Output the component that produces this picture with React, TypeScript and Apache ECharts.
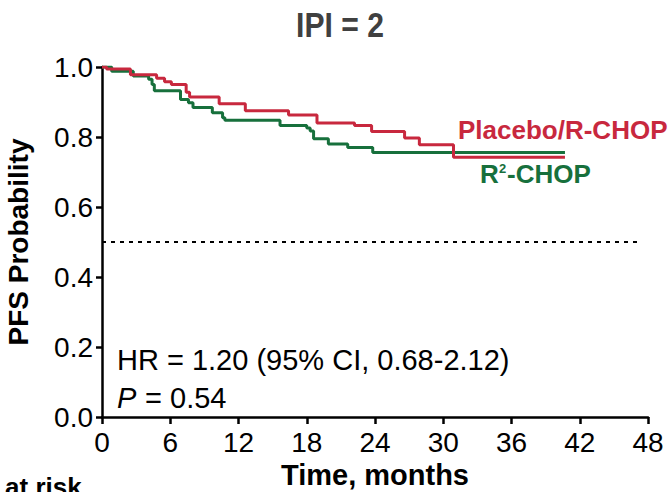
import React, { useEffect, useRef } from "react";
import * as echarts from "echarts";

const xTicks = [0, 6, 12, 18, 24, 30, 36, 42, 48];
const yTicks = [0, 0.2, 0.4, 0.6, 0.8, 1.0];

const placeboTimes = [0, 0.4, 2.5, 4.8, 5.5, 6.1, 7.4, 7.7, 10.3, 12.6, 16.4, 18.9, 22.2, 23.7, 26.6, 27.9, 30.9, 40.7];
const placeboSurv = [1.0, 0.994, 0.978, 0.968, 0.958, 0.95, 0.928, 0.914, 0.895, 0.875, 0.863, 0.84, 0.833, 0.816, 0.797, 0.778, 0.742, 0.742];

const r2Times = [0, 0.85, 2.75, 4.1, 4.4, 4.6, 6.9, 7.6, 8.0, 9.7, 10.6, 10.8, 15.65, 18.0, 18.3, 18.6, 19.9, 21.6, 23.8, 40.7];
const r2Surv = [1.0, 0.988, 0.974, 0.965, 0.95, 0.932, 0.907, 0.898, 0.884, 0.869, 0.855, 0.848, 0.833, 0.826, 0.817, 0.795, 0.78, 0.77, 0.756, 0.756];

const medianLine = 0.5;

const RED = "#c8283e";
const GREEN = "#17703c";
const FONT = "'Liberation Sans', Arial, Helvetica, sans-serif";

export default function App() {
  const ref = useRef<HTMLDivElement>(null);
  useEffect(() => {
    if (!ref.current) return;
    const chart = echarts.init(ref.current, undefined, { renderer: "svg" });
    const pts = (t: number[], s: number[]) => t.map((v, i) => [v, s[i]]);
    chart.setOption({
      animation: false,
      textStyle: { fontFamily: FONT },
      grid: { left: 102, right: 20, top: 67, bottom: 75, containLabel: false, outerBoundsMode: "none" },
      xAxis: {
        type: "value",
        min: xTicks[0],
        max: xTicks[xTicks.length - 1],
        interval: 6,
        name: "Time, months",
        nameLocation: "middle",
        nameGap: 40,
        nameTextStyle: { fontFamily: FONT, fontSize: 29, fontWeight: "bold", color: "#000" },
        axisLine: { show: true, lineStyle: { color: "#000", width: 2.5 } },
        axisTick: { show: true, length: 7, lineStyle: { color: "#000", width: 2.5 } },
        axisLabel: { fontFamily: FONT, fontSize: 28, color: "#000", margin: 11 },
        splitLine: { show: false },
      },
      yAxis: {
        type: "value",
        min: yTicks[0],
        max: yTicks[yTicks.length - 1],
        interval: 0.2,
        name: "PFS Probability",
        nameLocation: "middle",
        nameGap: 70,
        nameRotate: 90,
        nameTextStyle: { fontFamily: FONT, fontSize: 28, fontWeight: "bold", color: "#000" },
        axisLine: { show: true, lineStyle: { color: "#000", width: 2.5 } },
        axisTick: { show: true, length: 6, lineStyle: { color: "#000", width: 2.5 } },
        axisLabel: {
          fontFamily: FONT,
          fontSize: 28,
          color: "#000",
          margin: 9,
          formatter: (v: number) => v.toFixed(1),
        },
        splitLine: { show: false },
      },
      series: [
        {
          type: "line",
          name: "R2-CHOP",
          step: "end",
          symbol: "none",
          data: pts(r2Times, r2Surv),
          lineStyle: { color: GREEN, width: 3 },
          itemStyle: { color: GREEN },
          markLine: {
            silent: true,
            symbol: "none",
            label: { show: false },
            lineStyle: { color: "#000", width: 2, type: [4, 5] },
            data: [[{ coord: [0, medianLine] }, { coord: [47.3, medianLine] }]],
          },
        },
        {
          type: "line",
          name: "Placebo/R-CHOP",
          step: "end",
          symbol: "none",
          data: pts(placeboTimes, placeboSurv),
          lineStyle: { color: RED, width: 3 },
          itemStyle: { color: RED },
        },
      ],
      graphic: [
        {
          type: "text",
          x: 340,
          y: 25,
          scaleX: 0.86,
          style: {
            text: "IPI = 2",
            fill: "#404040",
            font: `bold 35px ${FONT}`,
            textAlign: "center",
            textVerticalAlign: "middle",
          },
        },
        {
          type: "text",
          left: 458,
          top: 117,
          style: { text: "Placebo/R-CHOP", fill: RED, font: `bold 26px ${FONT}` },
        },
        {
          type: "group",
          left: 480,
          top: 161,
          children: [
            { type: "text", x: 0, y: 0, style: { text: "R", fill: GREEN, font: `bold 26px ${FONT}` } },
            { type: "text", x: 19, y: 1, style: { text: "2", fill: GREEN, font: `bold 13px ${FONT}` } },
            { type: "text", x: 27, y: 0, style: { text: "-CHOP", fill: GREEN, font: `bold 26px ${FONT}` } },
          ],
        },
        {
          type: "text",
          left: 117,
          top: 345,
          style: { text: "HR = 1.20 (95% CI, 0.68-2.12)", fill: "#000", font: `29px ${FONT}` },
        },
        {
          type: "group",
          left: 117,
          top: 383,
          children: [
            { type: "text", x: 0, y: 0, style: { text: "P", fill: "#000", font: `italic 29px ${FONT}` } },
            { type: "text", x: 20, y: 0, style: { text: " = 0.54", fill: "#000", font: `29px ${FONT}` } },
          ],
        },
        {
          type: "text",
          left: -44,
          top: 474,
          style: { text: "No. at risk", fill: "#000", font: `bold 26px ${FONT}` },
        },
      ],
    });
    return () => chart.dispose();
  }, []);
  return <div ref={ref} style={{ position: "absolute", left: 0, top: 0, width: 668, height: 492 }} />;
}
